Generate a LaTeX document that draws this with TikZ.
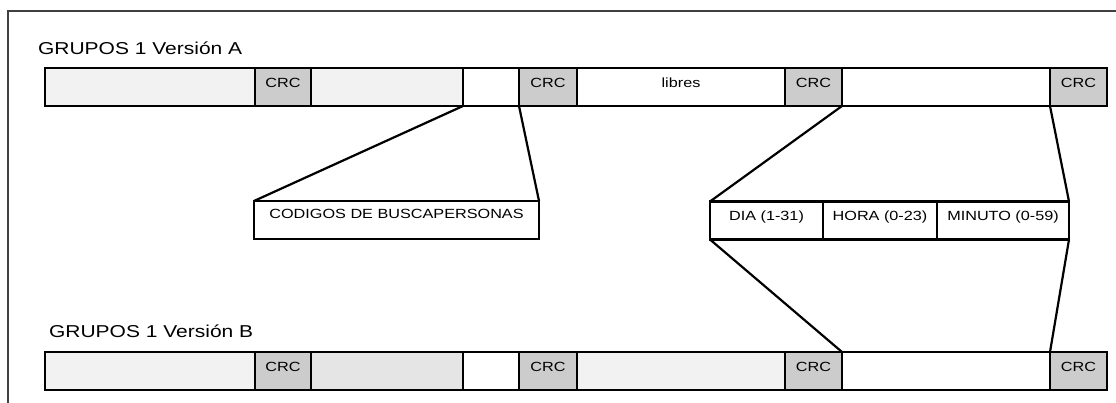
\documentclass[tikz,border=0pt]{standalone}
\usepackage{fontspec}
\setmainfont[FakeStretch=1.22]{Liberation Sans}
\definecolor{segl}{HTML}{F2F2F2}
\definecolor{segm}{HTML}{E5E5E5}
\definecolor{crcg}{HTML}{CCCCCC}
\begin{document}
\begin{tikzpicture}[x=1pt, y=-1pt, line width=2.2pt,
                    seg/.style={draw, rectangle, inner sep=0pt, outer sep=0pt, minimum height=38pt},
                    lbl/.style={inner sep=0pt, text depth=0pt, font=\fontsize{13.3}{15}\selectfont},
                    title node/.style={inner sep=0pt, anchor=base west, font=\fontsize{17.2}{20}\selectfont}]

  \useasboundingbox (0,0) rectangle (1116,403);
  \draw[line width=1.3pt, black!75] (8,403) -- (8,11) -- (1116,11);

  \node[title node] (titA) at (37,55) {GRUPOS 1 Versión A};
  \node[title node] (titB) at (48,337) {GRUPOS 1 Versión B};

  % trama A
  \foreach \l/\r/\f/\t [count=\i, evaluate=\l as \w using \r-\l, evaluate=\l as \m using (\l+\r)/2] in
      {45/255/segl/{}, 255/311/crcg/CRC, 311/463/segl/{}, 463/519/white/{}, 519/577/crcg/CRC,
       577/785/white/libres, 785/842/crcg/CRC, 842/1050/white/{}, 1050/1107/crcg/CRC}
  {
    \node[seg, fill=\f, minimum width=\w pt] (a\i) at (\m,87) {};
    \node[lbl] at ([yshift=4.5pt]a\i.center) {\t};
  }

  % trama B
  \foreach \l/\r/\f/\t [count=\i, evaluate=\l as \w using \r-\l, evaluate=\l as \m using (\l+\r)/2] in
      {45/255/segl/{}, 255/311/crcg/CRC, 311/463/segm/{}, 463/519/white/{}, 519/577/crcg/CRC,
       577/785/segl/{}, 785/842/crcg/CRC, 842/1050/white/{}, 1050/1107/crcg/CRC}
  {
    \node[seg, fill=\f, minimum width=\w pt] (b\i) at (\m,371) {};
    \node[lbl] at ([yshift=4.5pt]b\i.center) {\t};
  }

  % campos
  \node[seg, fill=white, minimum width=285pt] (codigos) at (396.5,220) {};
  \node[lbl] at ([yshift=6pt]codigos.center) {CODIGOS DE BUSCAPERSONAS};
  \node[seg, fill=white, minimum width=113pt] (dia) at (766.5,220.5) {};
  \node[seg, fill=white, minimum width=114pt] (hora) at (880,220.5) {};
  \node[seg, fill=white, minimum width=132pt] (minuto) at (1003,220.5) {};
  \node[lbl] at ([yshift=4.5pt]dia.center) {DIA (1-31)};
  \node[lbl] at ([yshift=4.5pt]hora.center) {HORA (0-23)};
  \node[lbl] at ([yshift=4.5pt]minuto.center) {MINUTO (0-59)};

\path
    (a4.south west) edge (codigos.north west)
    (a4.south east) edge (codigos.north east)
    (a8.south west) edge (dia.north west)
    (a8.south east) edge (minuto.north east)
    (dia.south west) edge (b8.north west)
    (minuto.south east) edge (b8.north east);

\end{tikzpicture}
\end{document}
